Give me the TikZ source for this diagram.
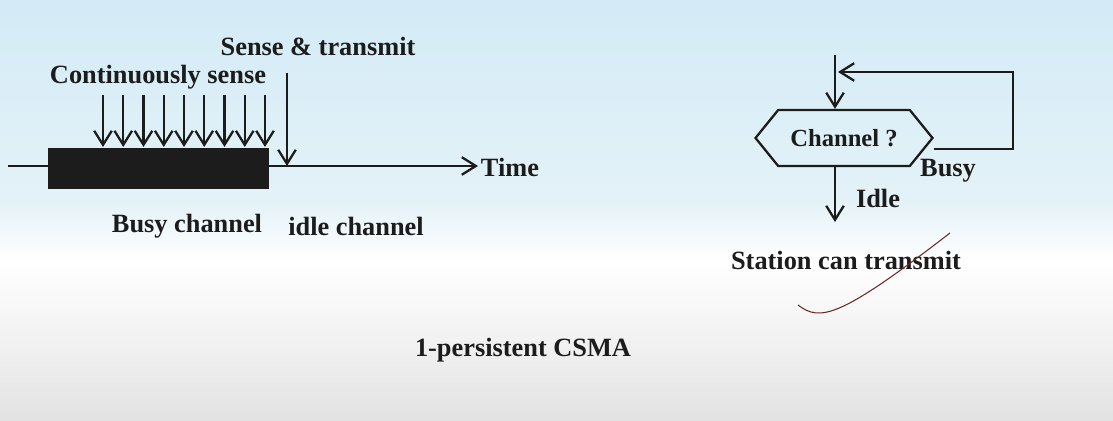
\documentclass[tikz,border=0pt]{standalone}
\usepackage{fontspec}
\setmainfont{Liberation Serif}
\usetikzlibrary{arrows.meta,positioning,shapes.symbols}
\definecolor{penmark}{HTML}{6B2A2A}
\definecolor{ink}{HTML}{1C1C1C}
\definecolor{slidetop}{HTML}{D3EBF6}
\definecolor{slidemid}{HTML}{E4F2F8}
\definecolor{slidelow}{HTML}{E2E2E2}
\pgfdeclareverticalshading{slide}{100bp}{color(0bp)=(slidelow);color(25bp)=(slidelow);color(35bp)=(black!5);color(44bp)=(white);color(51bp)=(slidemid);color(75bp)=(slidetop);color(100bp)=(slidetop)}

\begin{document}
\begin{tikzpicture}[x=0.02cm,y=-0.02cm,font=\bfseries\fontsize{15}{17}\selectfont,
  every node/.style={inner sep=1pt,text=ink},line width=1.3pt,draw=ink,
  sense/.style={draw=ink,-{Straight Barb[length=8pt,width=10pt]}}]
\shade[shading=slide] (0,0) rectangle (1113,421);
\useasboundingbox (0,0) rectangle (1113,421);
% time line with the busy period
\coordinate (t0) at (8,166);
\node[anchor=west] (time) at (478,167) {Time};
\draw[sense] (t0)--(t0 -| time.west);
\node[fill=ink,inner sep=0pt,minimum width=4.42cm,minimum height=0.82cm,anchor=north west] (busy) at (47,147) {};
\node (cs) at (158,77) {Continuously sense};
\foreach \i in {0,...,8}{
  \coordinate (s\i) at (103+\i*20.25,95);
  \draw[sense] (s\i)--(s\i |- busy.north);
}
\node (st) at (318,46) {Sense \& transmit};
\coordinate (sx) at (287,73);
\draw[sense] (sx)--(sx |- t0);
\node (bc) at (187,226) {Busy channel};
\node (ic) at (356,226) {idle channel};
% flow chart
\node[draw=ink,signal,signal to=east and west,signal pointer angle=102,minimum width=3.54cm,minimum height=1.12cm,inner sep=0pt,font=\bfseries\fontsize{14}{16}\selectfont] (chan) at (844,138) {Channel ?};
\coordinate (in) at (835,55);
\coordinate (lp) at (1013,72);
\coordinate (out) at (835,222);
\draw[sense] (in)--(in |- chan.north);
\draw[sense] ([yshift=-0.22cm]chan.east) -| (lp) -- ([xshift=0.06cm]in |- lp);
\draw[sense] (in |- chan.south)--(out);
\node (idle) at (878,198) {Idle};
\node (busylbl) at (948,171) {Busy};
\node (stn) at (846,260) {Station can transmit};
\draw[penmark,line width=0.6pt] (798,305) .. controls (820,322) and (840,318) .. (950,233);
\node (title) at (523,350) {1-persistent CSMA};
\end{tikzpicture}
\end{document}
